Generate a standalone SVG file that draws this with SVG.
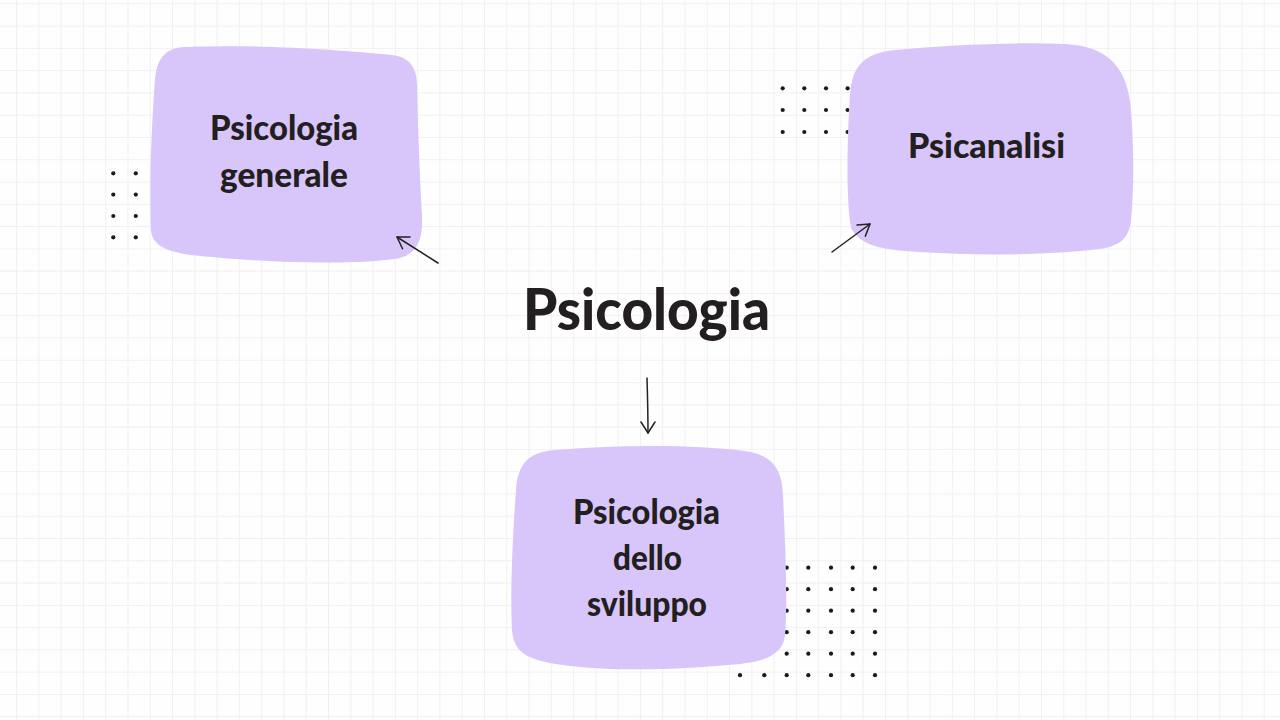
<svg xmlns="http://www.w3.org/2000/svg" width="1280" height="720" viewBox="0 0 1280 720">
  <defs>
    <pattern id="grid" patternUnits="userSpaceOnUse" x="16.1" y="3.3" width="22.28" height="22.28">
      <rect x="0" y="0" width="1" height="22.28" fill="#f1eff2"/>
      <rect x="0" y="0" width="22.28" height="1" fill="#f1eff2"/>
    </pattern>
    <marker id="head" markerUnits="userSpaceOnUse" viewBox="-13 -9 15 18" refX="0" refY="0" markerWidth="15" markerHeight="18" orient="auto">
      <path d="M -11,-7 L 0,0 L -11,7" fill="none" stroke="#222" stroke-width="1.5" stroke-linecap="round" stroke-linejoin="round"/>
    </marker>
  </defs>
  <style>
    .blob { fill: #d8c6fb; }
    .dot { fill: #1a1a1a; }
    .lbl { font-family: Lato, "Open Sans", sans-serif; font-weight: 900; fill: #231f20; text-anchor: middle; }
    .box { font-size: 34px; }
    .title { font-size: 57px; }
    .conn { fill: none; stroke: #222; stroke-width: 1.5; stroke-linecap: round; marker-end: url(#head); }
  </style>

  <rect width="1280" height="720" fill="#fefefe"/>
  <rect width="1280" height="720" fill="url(#grid)"/>

  <g id="dots">
    <circle class="dot" cx="113.3" cy="173.3" r="2.1"/>
    <circle class="dot" cx="135.8" cy="173.3" r="2.1"/>
    <circle class="dot" cx="113.3" cy="194.6" r="2.1"/>
    <circle class="dot" cx="135.8" cy="194.6" r="2.1"/>
    <circle class="dot" cx="113.3" cy="216" r="2.1"/>
    <circle class="dot" cx="135.8" cy="216" r="2.1"/>
    <circle class="dot" cx="113.3" cy="237.3" r="2.1"/>
    <circle class="dot" cx="135.8" cy="237.3" r="2.1"/>

    <circle class="dot" cx="782.7" cy="88.3" r="2.1"/>
    <circle class="dot" cx="804.3" cy="88.3" r="2.1"/>
    <circle class="dot" cx="826" cy="88.3" r="2.1"/>
    <circle class="dot" cx="847.6" cy="88.3" r="2.1"/>
    <circle class="dot" cx="782.7" cy="110" r="2.1"/>
    <circle class="dot" cx="804.3" cy="110" r="2.1"/>
    <circle class="dot" cx="826" cy="110" r="2.1"/>
    <circle class="dot" cx="847.6" cy="110" r="2.1"/>
    <circle class="dot" cx="782.7" cy="132" r="2.1"/>
    <circle class="dot" cx="804.3" cy="132" r="2.1"/>
    <circle class="dot" cx="826" cy="132" r="2.1"/>
    <circle class="dot" cx="847.6" cy="132" r="2.1"/>

    <circle class="dot" cx="786.7" cy="567.7" r="2.1"/>
    <circle class="dot" cx="808.3" cy="567.7" r="2.1"/>
    <circle class="dot" cx="831" cy="567.7" r="2.1"/>
    <circle class="dot" cx="852.7" cy="567.7" r="2.1"/>
    <circle class="dot" cx="875" cy="567.7" r="2.1"/>
    <circle class="dot" cx="786.7" cy="589.2" r="2.1"/>
    <circle class="dot" cx="808.3" cy="589.2" r="2.1"/>
    <circle class="dot" cx="831" cy="589.2" r="2.1"/>
    <circle class="dot" cx="852.7" cy="589.2" r="2.1"/>
    <circle class="dot" cx="875" cy="589.2" r="2.1"/>
    <circle class="dot" cx="786.7" cy="610.7" r="2.1"/>
    <circle class="dot" cx="808.3" cy="610.7" r="2.1"/>
    <circle class="dot" cx="831" cy="610.7" r="2.1"/>
    <circle class="dot" cx="852.7" cy="610.7" r="2.1"/>
    <circle class="dot" cx="875" cy="610.7" r="2.1"/>
    <circle class="dot" cx="786.7" cy="632.2" r="2.1"/>
    <circle class="dot" cx="808.3" cy="632.2" r="2.1"/>
    <circle class="dot" cx="831" cy="632.2" r="2.1"/>
    <circle class="dot" cx="852.7" cy="632.2" r="2.1"/>
    <circle class="dot" cx="875" cy="632.2" r="2.1"/>
    <circle class="dot" cx="786.7" cy="653.7" r="2.1"/>
    <circle class="dot" cx="808.3" cy="653.7" r="2.1"/>
    <circle class="dot" cx="831" cy="653.7" r="2.1"/>
    <circle class="dot" cx="852.7" cy="653.7" r="2.1"/>
    <circle class="dot" cx="875" cy="653.7" r="2.1"/>
    <circle class="dot" cx="740" cy="675.2" r="2.1"/>
    <circle class="dot" cx="764.3" cy="675.2" r="2.1"/>
    <circle class="dot" cx="786.7" cy="675.2" r="2.1"/>
    <circle class="dot" cx="808.3" cy="675.2" r="2.1"/>
    <circle class="dot" cx="831" cy="675.2" r="2.1"/>
    <circle class="dot" cx="852.7" cy="675.2" r="2.1"/>
    <circle class="dot" cx="875" cy="675.2" r="2.1"/>
  </g>

  <g id="node-generale">
    <path class="blob" d="M 185,47 C 260,44 340,50 392,55 C 410,57 417,68 417,85 C 418,130 420,180 422,215 C 423,240 418,255 395,259 C 350,265 270,263 200,256 C 170,253 152,247 151,230 C 149,180 152,120 155,80 C 157,58 165,48 185,47 Z"/>
    <text class="lbl box" x="284" y="140" textLength="148" lengthAdjust="spacingAndGlyphs">Psicologia</text>
    <text class="lbl box" x="284" y="187" textLength="128" lengthAdjust="spacingAndGlyphs">generale</text>
  </g>

  <g id="node-psicanalisi">
    <path class="blob" d="M 895,50 C 950,45 1010,42 1065,44 C 1110,46 1128,70 1131,110 C 1134,150 1134,190 1131,220 C 1129,240 1118,246 1100,249 C 1050,255 980,256 920,252 C 880,250 860,245 851,228 C 846,200 847,140 850,95 C 852,65 865,53 895,50 Z"/>
    <text class="lbl box" x="986.5" y="158" textLength="157" lengthAdjust="spacingAndGlyphs">Psicanalisi</text>
  </g>

  <g id="node-sviluppo">
    <path class="blob" d="M 555,450 C 620,445 690,444 745,451 C 772,455 782,468 783,495 C 785,540 788,600 785,635 C 783,655 765,661 740,664 C 690,669 620,672 570,666 C 530,661 514,655 512,630 C 510,590 513,530 516,490 C 518,462 530,452 555,450 Z"/>
    <text class="lbl box" x="646.5" y="524" textLength="147" lengthAdjust="spacingAndGlyphs">Psicologia</text>
    <text class="lbl box" x="647.5" y="570" textLength="69" lengthAdjust="spacingAndGlyphs">dello</text>
    <text class="lbl box" x="647" y="616" textLength="120" lengthAdjust="spacingAndGlyphs">sviluppo</text>
  </g>

  <g id="node-psicologia">
    <text class="lbl title" x="646.5" y="330" textLength="247" lengthAdjust="spacingAndGlyphs">Psicologia</text>
  </g>

  <g id="connectors">
    <path class="conn" d="M 438,263 L 397,237"/>
    <path class="conn" d="M 832,252 L 870,224"/>
    <path class="conn" d="M 647,378 C 647.5,395 648,415 648,433"/>
  </g>
</svg>
